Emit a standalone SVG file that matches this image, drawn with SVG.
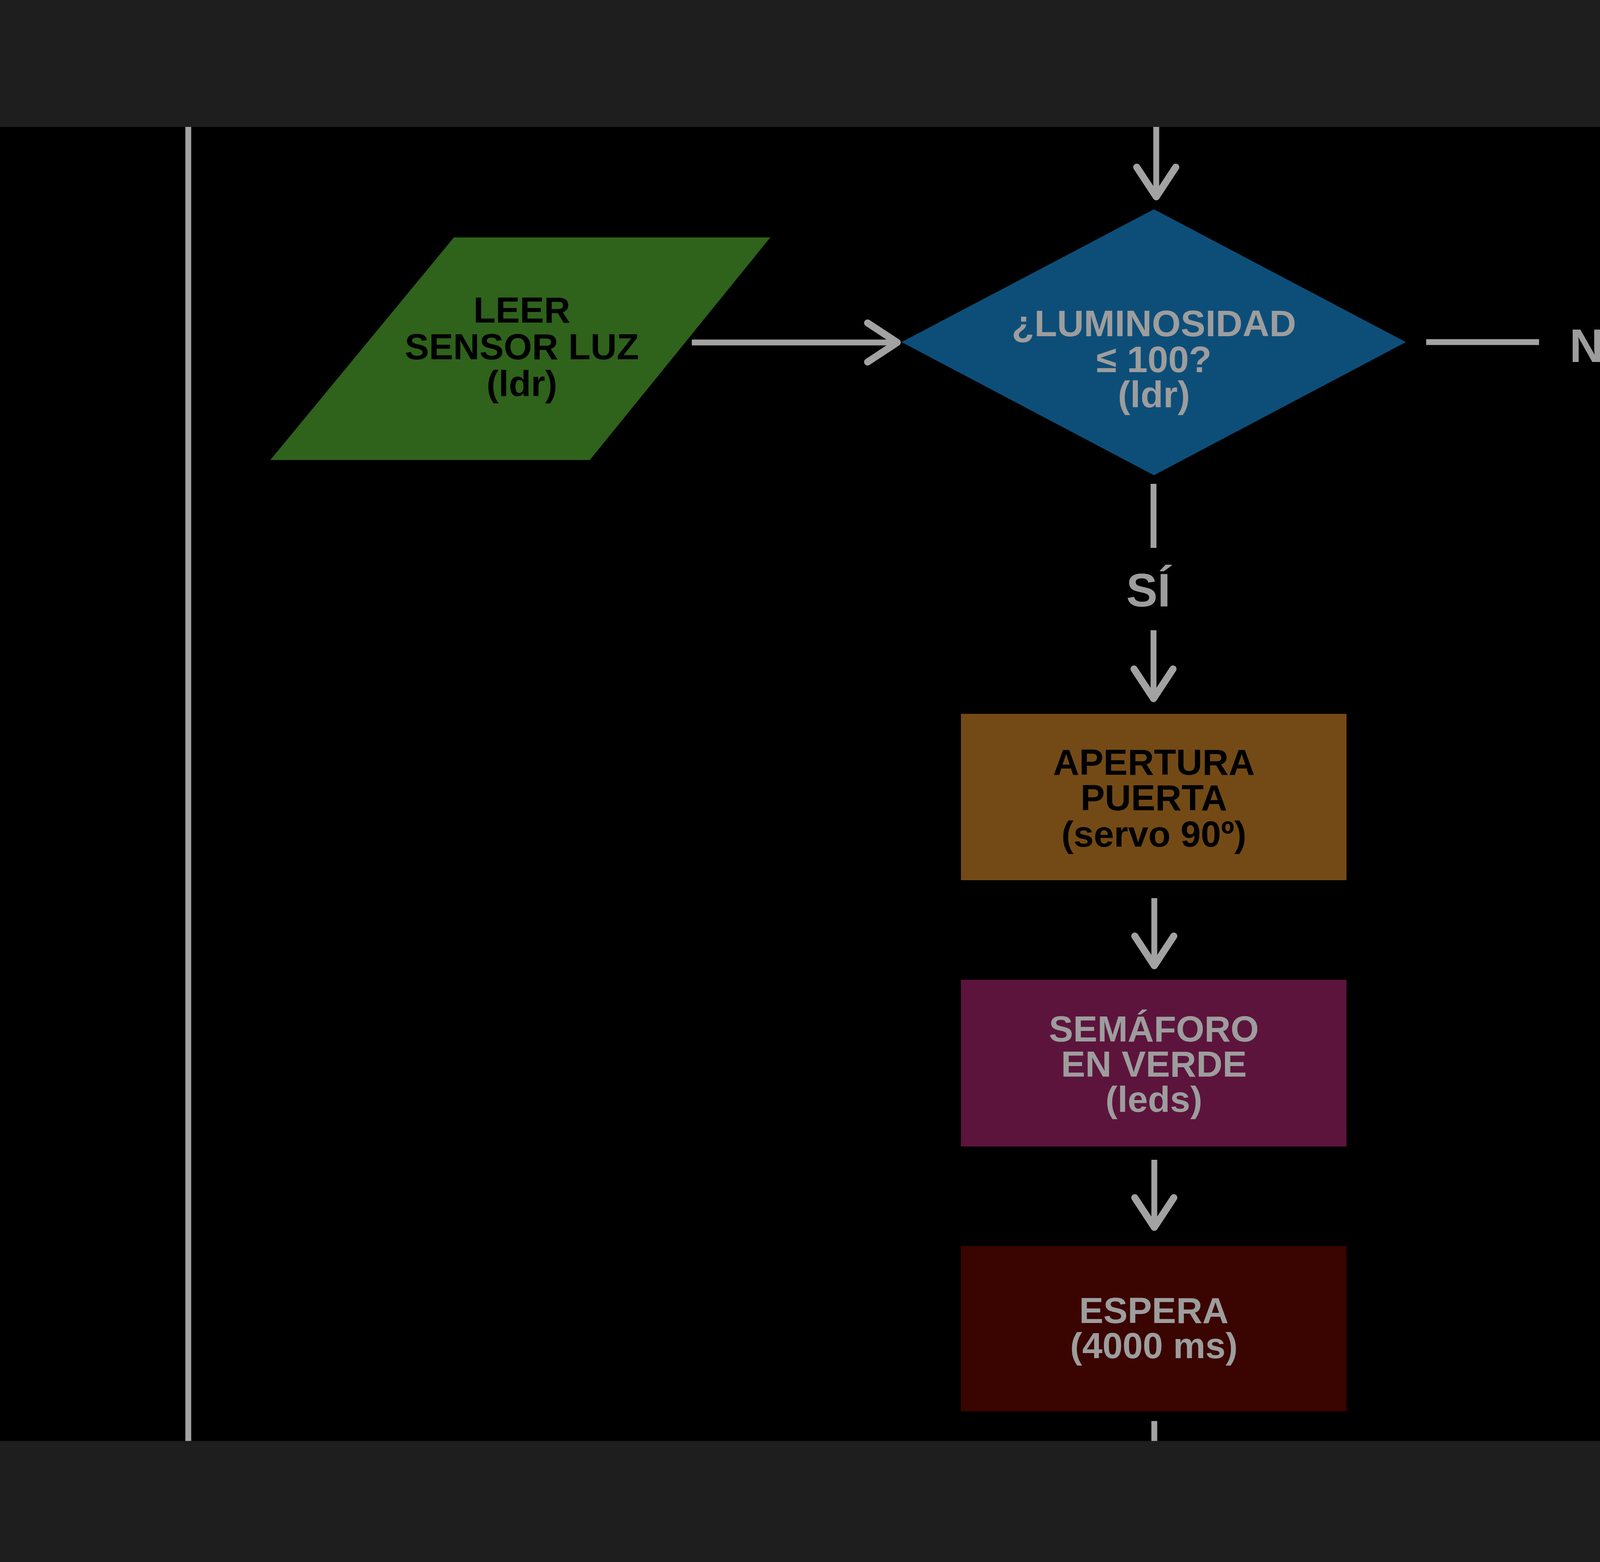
<svg xmlns="http://www.w3.org/2000/svg" width="6000" height="4000" viewBox="0 0 6000 4000">
<defs>
<style>
.t{font-family:"Liberation Sans",Arial,Helvetica,sans-serif;font-weight:bold;font-size:93px;text-anchor:middle}
.q{font-size:95px}
.dk{fill:#000}
.lt{fill:#9d9d9d}
.lbl{font-family:"Liberation Sans",Arial,Helvetica,sans-serif;font-weight:bold;font-size:120px;text-anchor:middle;fill:#9d9d9d}
.ln{fill:none;stroke:#a2a2a2;stroke-width:15;stroke-linecap:butt}
.arr{marker-end:url(#ah)}
</style>
<marker id="ah" markerUnits="userSpaceOnUse" viewBox="-90 -60 100 120" refX="0" refY="0" markerWidth="100" markerHeight="120" orient="auto" overflow="visible">
<path d="M -76 -50 L 0 0 L -76 50" fill="none" stroke="#a2a2a2" stroke-width="18" stroke-linecap="round" stroke-linejoin="round"/>
</marker>
</defs>
<rect x="0" y="0" width="6000" height="4000" fill="#000"/>

<g id="connectors">
<line class="ln" x1="482" y1="300" x2="482" y2="3720"/>
<line class="ln arr" x1="2960" y1="300" x2="2960" y2="504"/>
<line class="ln arr" x1="1771" y1="877" x2="2297" y2="877"/>
<line class="ln" x1="3651" y1="876" x2="3940" y2="876"/>
<polyline class="ln arr" points="4277,875 5083,875 5083,1798"/>
<line class="ln" x1="2953" y1="1239" x2="2953" y2="1403"/>
<line class="ln arr" x1="2953" y1="1614" x2="2953" y2="1789"/>
<line class="ln arr" x1="2955" y1="2300" x2="2955" y2="2473"/>
<line class="ln arr" x1="2955" y1="2970" x2="2955" y2="3143"/>
<line class="ln" x1="2955" y1="3639" x2="2955" y2="3720"/>
<line class="ln arr" x1="5082" y1="2288" x2="5082" y2="2467"/>
<line class="ln" x1="5083" y1="2984" x2="5083" y2="3720"/>
<text class="lbl" x="4108" y="927">NO</text>
<text class="lbl" x="2940" y="1553">SÍ</text>
</g>

<g id="leer">
<polygon points="1162,608 1972,608 1510,1178 692,1178" fill="#2f621b"/>
<text class="t dk" x="1336" y="826">LEER</text>
<text class="t dk" x="1336" y="920">SENSOR LUZ</text>
<text class="t dk" x="1336" y="1014">(ldr)</text>
</g>

<g id="decision">
<polygon points="2954,536 3599,876 2954,1217 2308,876" fill="#0d4e79"/>
<text class="t q lt" x="2954" y="861">¿LUMINOSIDAD</text>
<text class="t q lt" x="2954" y="953">≤ 100?</text>
<text class="t q lt" x="2954" y="1043">(ldr)</text>
</g>

<g id="apertura">
<rect x="2460" y="1828" width="987" height="426" fill="#734a16"/>
<text class="t dk" x="2954" y="1984">APERTURA</text>
<text class="t dk" x="2954" y="2075">PUERTA</text>
<text class="t dk" x="2954" y="2168">(servo 90º)</text>
</g>

<g id="verde">
<rect x="2460" y="2509" width="987" height="427" fill="#5c143c"/>
<text class="t lt" x="2954" y="2667">SEMÁFORO</text>
<text class="t lt" x="2954" y="2757">EN VERDE</text>
<text class="t lt" x="2954" y="2847">(leds)</text>
</g>

<g id="espera">
<rect x="2460" y="3191" width="987" height="423" fill="#3a0401"/>
<text class="t lt" x="2954" y="3388">ESPERA</text>
<text class="t lt" x="2954" y="3478">(4000 ms)</text>
</g>

<g id="cerrada">
<rect x="4601" y="1826" width="985" height="429" fill="#734a16"/>
<text class="t dk" x="5093" y="1986">PUERTA</text>
<text class="t dk" x="5093" y="2077">CERRADA</text>
<text class="t dk" x="5093" y="2169">(servo 0º)</text>
</g>

<g id="rojo">
<rect x="4601" y="2507" width="985" height="428" fill="#5c143c"/>
<text class="t lt" x="5093" y="2667">SEMÁFORO</text>
<text class="t lt" x="5093" y="2757">EN ROJO</text>
<text class="t lt" x="5093" y="2847">(leds)</text>
</g>

<rect x="0" y="0" width="6000" height="325" fill="#1e1e1e"/>
<rect x="0" y="3690" width="6000" height="310" fill="#1e1e1e"/>
</svg>
